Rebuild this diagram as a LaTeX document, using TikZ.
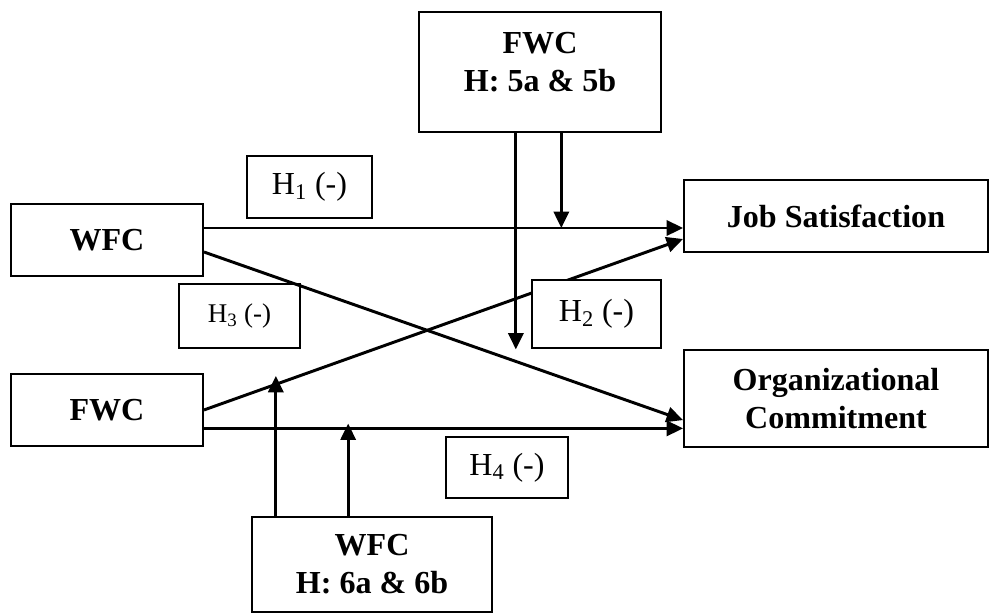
\documentclass[tikz,border=0pt]{standalone}
\usepackage{fontspec}
\setmainfont{Liberation Serif}
\usepackage{tikz}
\usetikzlibrary{arrows.meta,positioning,calc}
\tikzset{
  box/.style={draw=black,fill=white,line width=1.4pt,align=center,inner sep=0pt,font=\fontsize{22.8}{27}\selectfont\bfseries},
  tag/.style={draw=black,fill=white,line width=1.4pt,align=center,inner sep=0pt,font=\fontsize{22.8}{27}\selectfont},
  flow/.style={-{Triangle[length=.41cm,width=.38cm]},draw=black,line width=2.1pt}
}
\begin{document}
\begin{tikzpicture}
      \useasboundingbox (0,0) rectangle (24.775,-15.325);
      % constructs
      \node[box,minimum width=4.8cm,minimum height=1.8cm] (wfcL) at (2.675,-6) {WFC};
      \node[box,minimum width=4.8cm,minimum height=1.8cm,below=2.4cm of wfcL] (fwcL) {FWC};
      \node[box,minimum width=7.6cm,minimum height=1.8cm] (js) at (20.9,-5.4) {Job Satisfaction};
      \node[box,minimum width=7.6cm,minimum height=2.425cm,below=2.4cm of js] (oc) {Organizational\\Commitment};
      \node[box,minimum width=6.05cm,minimum height=3cm] (fwcT) at (13.5,-1.8) {FWC\\H: 5a \& 5b\\[-13pt]\mbox{}};
      \node[box,minimum width=6cm,minimum height=2.375cm] (wfcB) at (9.3,-14.1125) {WFC\\H: 6a \& 6b};
      \node[tag,minimum width=3.025cm,minimum height=1.6cm,font=\fontsize{19.2}{23}\selectfont] (h3) at (5.9875,-7.9) {H\textsubscript{3} (-)};
      % direct paths
      \draw[flow] ([yshift=.3cm]wfcL.east) -- coordinate[pos=.746] (m5b) ([yshift=.3cm]wfcL.east -| js.west);
      \draw[flow] ([yshift=-.3cm]wfcL.east) -- coordinate[pos=.651] (m5a) ([yshift=-.54cm]oc.west);
      \draw[flow] (fwcL.east) -- coordinate[pos=.15] (m6a) ([yshift=-.575cm]js.west);
      \draw[flow] ([yshift=-.46cm]fwcL.east) -- coordinate[pos=.301] (m6b) ([yshift=-.46cm]fwcL.east -| oc.west);
      % moderators
      \draw[flow,shorten >=.3cm] (m5a |- fwcT.south) -- (m5a);
      \draw[flow] (m5b |- fwcT.south) -- (m5b);
      \draw[flow,shorten >=-.21cm] (m6a |- wfcB.north) -- (m6a);
      \draw[flow,shorten >=-.12cm] (m6b |- wfcB.north) -- (m6b);
      % hypothesis tags
      \node[tag,minimum width=3.125cm,minimum height=1.55cm] (h1) at (7.7375,-4.675) {H\textsubscript{1} (-)};
      \node[tag,minimum width=3.225cm,minimum height=1.7cm] (h2) at (14.9125,-7.85) {H\textsubscript{2} (-)};
      \node[tag,minimum width=3.05cm,minimum height=1.525cm] (h4) at (12.675,-11.6875) {H\textsubscript{4} (-)};
\end{tikzpicture}
\end{document}
